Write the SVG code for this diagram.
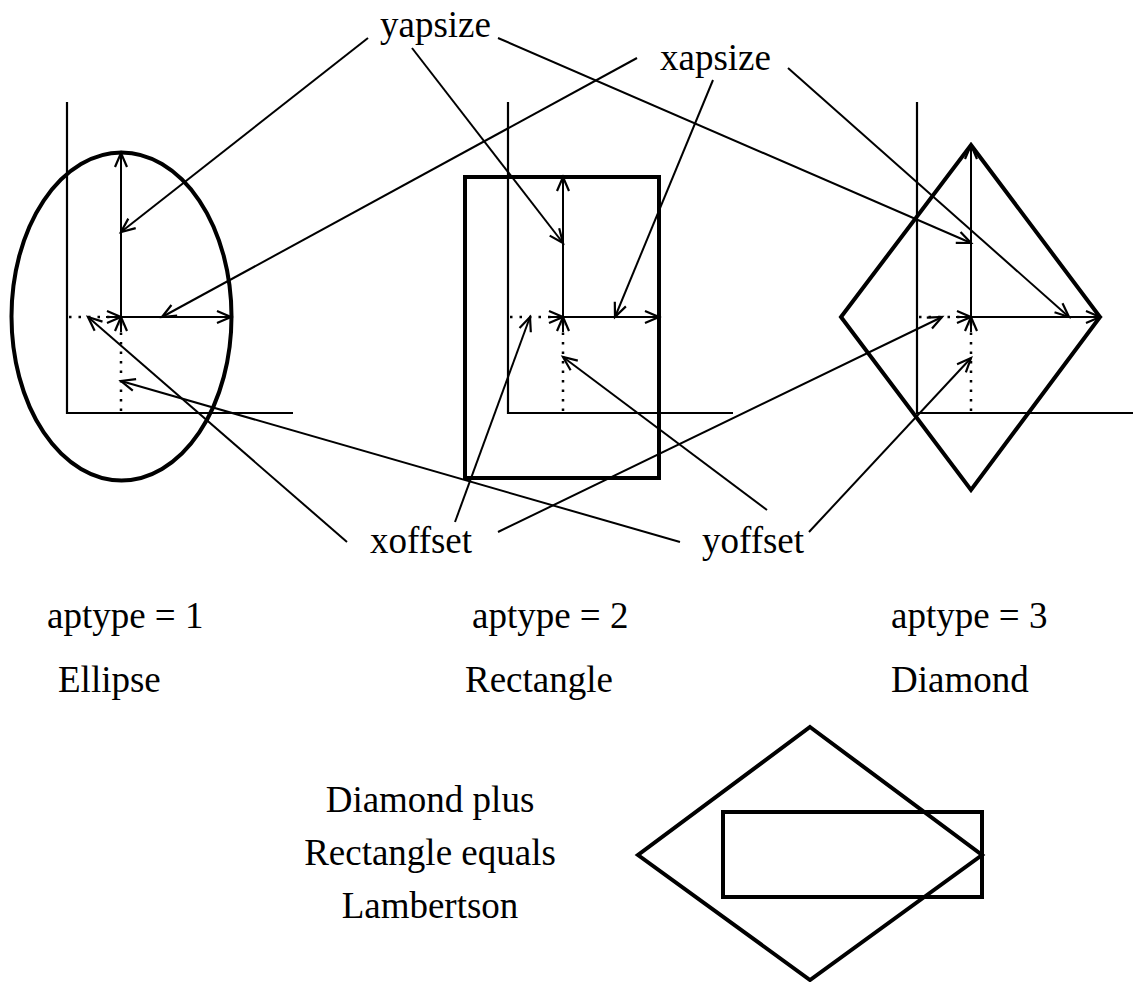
<svg xmlns="http://www.w3.org/2000/svg" width="1133" height="982" viewBox="0 0 1133 982">
<defs>
<marker id="ah" markerUnits="userSpaceOnUse" markerWidth="30" markerHeight="30" refX="0" refY="0" orient="auto" overflow="visible" viewBox="-15 -15 30 30">
<path d="M-14,-6 L0,0 L-14,6" fill="none" stroke="#000" stroke-width="2.2"/>
</marker>
</defs>
<style>
.ax{stroke:#000;stroke-width:2.2;fill:none}
.th{stroke:#000;stroke-width:4;fill:none}
.ar{stroke:#000;stroke-width:2;fill:none;marker-end:url(#ah)}
.dt{stroke:#000;stroke-width:2.5;fill:none;stroke-dasharray:2.5 7}
.t{font-family:"Liberation Serif","Times New Roman",serif;font-size:37px;fill:#000}
</style>
<rect width="1133" height="982" fill="#fff"/>
<g id="panel-ellipse">
<path class="ax" d="M67,102 V413 H293"/>
<ellipse class="th" cx="121.5" cy="316.5" rx="110" ry="164"/>
<line class="ar" x1="121" y1="317" x2="121" y2="153"/>
<line class="ar" x1="121" y1="317" x2="231" y2="317"/>
<line class="dt" x1="69" y1="317" x2="121" y2="317"/>
<line class="ar" x1="106" y1="317" x2="121" y2="317"/>
<line class="dt" x1="121" y1="411" x2="121" y2="317"/>
<line class="ar" x1="121" y1="332" x2="121" y2="317"/>
</g>
<g id="panel-rectangle">
<path class="ax" d="M508,102 V413 H733"/>
<rect class="th" x="465" y="177" width="194" height="301"/>
<line class="ar" x1="563" y1="317" x2="563" y2="177"/>
<line class="ar" x1="563" y1="317" x2="659" y2="317"/>
<line class="dt" x1="510" y1="317" x2="563" y2="317"/>
<line class="ar" x1="548" y1="317" x2="563" y2="317"/>
<line class="dt" x1="563" y1="411" x2="563" y2="317"/>
<line class="ar" x1="563" y1="332" x2="563" y2="317"/>
</g>
<g id="panel-diamond">
<path class="ax" d="M917,102 V413 H1133"/>
<polygon class="th" points="971,145 1100,317 971,490 841,317"/>
<line class="ar" x1="971" y1="317" x2="971" y2="145"/>
<line class="ar" x1="971" y1="317" x2="1100" y2="317"/>
<line class="dt" x1="919" y1="317" x2="971" y2="317"/>
<line class="ar" x1="956" y1="317" x2="971" y2="317"/>
<line class="dt" x1="971" y1="411" x2="971" y2="317"/>
<line class="ar" x1="971" y1="332" x2="971" y2="317"/>
</g>
<g id="connectors">
<line class="ar" x1="368" y1="38" x2="121" y2="232"/>
<line class="ar" x1="412" y1="48" x2="563" y2="243"/>
<line class="ar" x1="498" y1="38" x2="971" y2="243"/>
<line class="ar" x1="637" y1="58" x2="162" y2="317"/>
<line class="ar" x1="713" y1="80" x2="615" y2="317"/>
<line class="ar" x1="788" y1="68" x2="1069" y2="317"/>
<line class="ar" x1="347" y1="542" x2="88" y2="317"/>
<line class="ar" x1="455" y1="522" x2="530" y2="317"/>
<line class="ar" x1="498" y1="532" x2="942" y2="317"/>
<line class="ar" x1="680" y1="542" x2="121" y2="381"/>
<line class="ar" x1="767" y1="510" x2="563" y2="357"/>
<line class="ar" x1="809" y1="532" x2="971" y2="358"/>
</g>
<g id="labels">
<text class="t" x="380" y="37">yapsize</text>
<text class="t" x="660" y="70">xapsize</text>
<text class="t" x="370" y="553">xoffset</text>
<text class="t" x="702" y="553">yoffset</text>
<text class="t" x="47" y="628">aptype = 1</text>
<text class="t" x="58" y="692">Ellipse</text>
<text class="t" x="472" y="628">aptype = 2</text>
<text class="t" x="465" y="692">Rectangle</text>
<text class="t" x="891" y="628">aptype = 3</text>
<text class="t" x="891" y="692">Diamond</text>
</g>
<g id="lambertson">
<text class="t" x="430" y="812" text-anchor="middle">Diamond plus</text>
<text class="t" x="430" y="865" text-anchor="middle">Rectangle equals</text>
<text class="t" x="430" y="918" text-anchor="middle">Lambertson</text>
<polygon class="th" points="810,727 982,855 810,980 638,855"/>
<rect class="th" x="723" y="812" width="259" height="85"/>
</g>
</svg>
